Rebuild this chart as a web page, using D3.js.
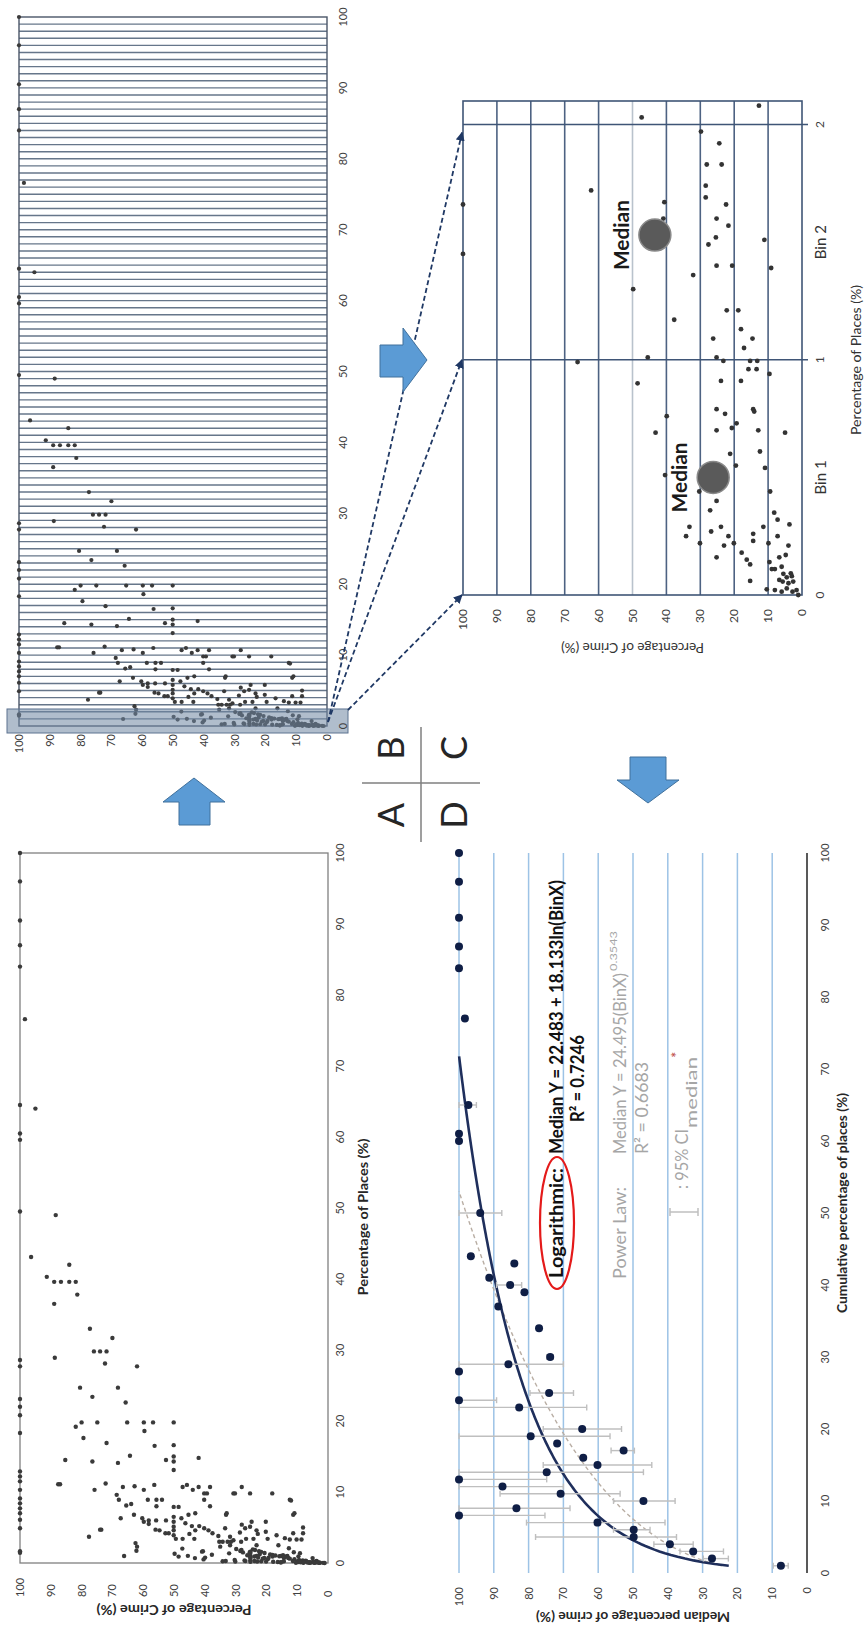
<!DOCTYPE html>
<html><head><meta charset="utf-8">
<script src="https://cdn.jsdelivr.net/npm/d3@7"></script>
<style>
html,body{margin:0;padding:0;background:#fff;}
svg{display:block;}
text{font-family:Lato,"Open Sans",sans-serif;}
</style>
</head><body>
<svg id="chart" width="865" height="1632"></svg>
<script>
// ---------------- DATA ----------------
// scatter: [percentage of places, percentage of crime], places <= 2.1 (zoomed panel C)
const lowPoints = [[1.66,100],[1.45,100],[2.08,12.7],[2.03,47.3],[1.97,29.8],[1.92,24.4],[1.83,28.1],[1.83,23.7],[1.72,62.2],[1.74,28.4],[1.69,28.4],[1.67,40.6],[1.66,22.4],[1.60,40.9],[1.60,25.2],[1.57,21.7],[1.52,25.4],[1.49,27.6],[1.51,11.1],[1.40,25.2],[1.40,20.6],[1.39,9.1],[1.36,32.1],[1.30,49.8],[1.17,37.7],[1.21,22.2],[1.21,18.8],[1.13,18],[1.09,26.2],[1.09,14.6],[1.05,17.1],[1.01,45.5],[0.99,66.2],[1.01,25.2],[0.995,23.2],[0.995,15.3],[0.995,13.2],[0.96,15.8],[0.96,13.4],[0.94,9.6],[0.90,48.5],[0.91,23.9],[0.91,18],[0.79,25.2],[0.79,14.4],[0.77,22.7],[0.78,14.1],[0.76,39.9],[0.73,19.3],[0.71,20.7],[0.70,25.2],[0.70,12.9],[0.69,5],[0.69,43.2],[0.60,21.2],[0.61,12.4],[0.55,19.5],[0.54,10.9],[0.51,40.4],[0.44,9.4],[0.44,30.3],[0.40,25.2],[0.36,27.1],[0.35,8.2],[0.32,7.2],[0.29,33.2],[0.25,34.2],[0.27,26.8],[0.29,23.9],[0.29,11.4],[0.30,3.7],[0.25,7.2],[0.26,14.4],[0.23,14.4],[0.25,21.7],[0.22,30.1],[0.21,23],[0.22,20.1],[0.22,9.9],[0.21,4],[0.18,17.8],[0.16,6.7],[0.16,25.2],[0.14,9.6],[0.15,16.3],[0.13,15.3],[0.17,4.8],[0.11,8],[0.11,8.9],[0.12,6],[0.06,15.3],[0.08,3],[0.09,5.5],[0.075,4.5],[0.057,5.7],[0.05,4],[0.057,2.6],[0.024,10.4],[0.021,8],[0.014,6],[0.028,4.5],[0.014,2.8],[0.021,1.6],[0,1.1],[0.064,6.7],[0.092,3.3]];
// scatter: places > 2.1
const highPoints = [[4.9,100],[6.1,100],[7,100],[7.7,100],[8.4,100],[9.1,100],[10.3,100],[11.5,100],[12.2,100],[12.9,100],[18.3,100],[20.8,100],[22,100],[23.1,100],[27.7,100],[28.6,100],[49.5,100],[59.6,100],[60.5,100],[64.5,100],[84,100],[87,100],[90.5,100],[96,100],[100,100],[76.6,98.4],[64,95],
[49,88.4],[43.1,96.4],[40.3,91.3],[39.6,88.9],[39.6,86.7],[39.6,84],[39.6,81.9],[42,84],[37.8,81.4],[36.5,88.9],[33,77.3],[31.7,70],[29.8,76],[29.8,74],[29.8,71.9],[28.9,88.7],[28.1,72.4],[27.7,62],[24.7,80.5],[24.7,68.2],[23.4,76.5],[22.6,65.7],[19.2,81.9],[19.8,80],[19.8,74.9],[19.8,65.2],[19.8,59.8],[19.8,56.8],[19.8,50.1],[18.6,59.6],[17.6,79.4],[16.9,71.9],[16.5,56.3],[16.6,50.1],[14.5,85.3],[14.3,76.5],[14.1,68.2],[15.1,64.3],[14.5,52.6],[15,50.1],[14.3,50.1],[13.1,50.1],[14.8,42],[11.1,87.6],[11.1,87],[10.3,75.8],[11.2,72.2],[10.7,66.6],[10.8,62.8],[10.3,59.8],[11,56.4],[10.7,47.2],[11,45.8],[10.3,43.9],[10.7,42],[10.7,38.3],[9.8,40.2],[9.8,39.3],[9.8,30.7],[9.8,30.2],[10.7,28],[9.8,25.3],[9.8,18.1],[8.9,12.4],[9.6,68.6],[8.9,67.9],[8.1,65.5],[8.3,63.9],[8.9,58.5],[8.9,55.7],[8.9,53.9],[8,55.7],[7.9,50.1],[7.9,48.5],[8,38.3],[8.9,40.2],[6.8,63],[5.8,59.8],[6.3,60.3],[6,58.2],[6,55.8],[6,52.6],[6.5,50.1],[5.8,50.1],[5.1,50.1],[4.6,50.1],[3.9,50.1],[6.3,47.6],[6.8,45.3],[7,43.1],[6.8,33.1],[5.4,28],[5.8,24.8],[5.8,20.2],[6.8,11.3],[5,8.1],[4.2,11.3],[4.2,8.1],[3.7,77.6],[4.7,74],[4.7,73.6],[6.3,67.3],[4.7,56],[5.5,58.2],[4.6,54.7],[4.2,52.8],[4.2,51.7],[5.6,46.3],[5.2,44.2],[4.6,43.1],[5.2,41.8],[4.9,40.2],[4.6,38.8],[4.2,37.5],[3.8,35.6],[4.9,33.4],[3.7,31.8],[4.3,28.6],[4.9,26.9],[5.1,25.3],[4.6,23.2],[4.4,20.2],[3.9,16.7],[3.5,14],[3.3,12.4],[3.3,10.2],[3.3,8.6],[2.8,62.5],[2.3,62],[2.3,35],[3,34.2],[2.5,31.8],[3.2,30.7],[2.5,23.2],[2.5,16.1],[3,31.5],[3,32.6],[3,35.3],[3,28.2],[4.1,22.8],[3.4,24.2],[3.4,26.6],[3.4,19.6],[3.4,43.4],[3.4,47.2],[3.4,49.4],[4.1,45],[7,32.9],[7,10.9],[8.8,12]];

// panel C medians
const binNames = ["Bin 1","Bin 2"];
const binCenters = [0.5, 1.53];
const binMedianValues = [26.2, 43.4];

// panel D: binned medians with 95% CI
const binX      = [1,2,3,4,5,6,7,8,9,10,11,12,13,14,15,16,17,18,19,20,23,24,25,28,29,30,34,37,39,40,41,43,44,50,60,61,65,77,84,87,91,96,100];
const binMedian = [7.5,27.3,32.7,39.4,49.8,49.8,60.2,100,83.5,47,70.8,87.5,100,74.8,60.2,64.3,52.7,71.8,79.4,64.6,82.7,100,74.1,100,85.8,73.8,77,88.7,81.2,85.3,91.3,84.1,96.6,93.9,100,100,97.3,98.3,100,100,100,100,100];
const ciLow     = [5.4,22.6,24,32.7,37.5,45.1,40.8,75.3,68.1,37.9,53.7,70,74.8,47,44.6,null,49.6,null,56.6,53.3,63.3,89.2,67.1,null,70,72.9,null,null,null,82,null,null,null,87.7,null,null,95,null,null,null,null,null,null];
const ciHigh    = [9.7,29.8,36.5,44,78,55.6,80.6,100,100,55.6,88.2,100,100,100,75.8,null,56.3,null,100,75.8,100,100,79.6,null,100,74.8,null,null,null,89.2,null,null,null,100,null,null,100,null,null,null,null,null,null];
const logFit = {a:22.483, b:18.133};
const powFit = {a:24.495, b:0.3543};

const tenTicks = [0,10,20,30,40,50,60,70,80,90,100];
const binTicks = [0,1,2];
const panelLetters = ["A","B","C","D"];

// ---------------- DRAW ----------------
const W = 1632;
const svg = d3.select("#chart");
const defs = svg.append("defs");
defs.append("marker").attr("id","ah").attr("viewBox","0 0 10 10").attr("refX",9).attr("refY",5)
  .attr("markerWidth",5).attr("markerHeight",5).attr("orient","auto")
  .append("path").attr("d","M0,0L10,5L0,10z").attr("fill","#1f3864");

const root = svg.append("g").attr("transform",`translate(0,${W}) rotate(-90)`);
const allPoints = lowPoints.concat(highPoints);
const tickCol = "#404040";

// ===== Panel A =====
const xA = d3.scaleLinear([0,100],[69,779]);
const yA = d3.scaleLinear([0,100],[328,20]);
const gA = root.append("g");
gA.append("rect").attr("x",xA(0)).attr("y",yA(100)).attr("width",xA(100)-xA(0)).attr("height",yA(0)-yA(100))
  .attr("fill","none").attr("stroke","#808080").attr("stroke-width",1.3);
gA.selectAll("circle").data(allPoints).join("circle")
  .attr("cx",d=>xA(d[0])).attr("cy",d=>yA(d[1])).attr("r",2.2).attr("fill","#3a3a3a");
gA.selectAll("text.xt").data(tenTicks).join("text").attr("class","xt")
  .attr("x",d=>xA(d)).attr("y",344).attr("text-anchor","middle").attr("font-size",11).attr("fill",tickCol).text(d=>d);
gA.selectAll("text.yt").data(tenTicks).join("text").attr("class","yt")
  .attr("x",35).attr("y",d=>yA(d)+4).attr("text-anchor","start").attr("font-size",11).attr("fill",tickCol).text(d=>d);
gA.append("text").attr("x",415).attr("y",368).attr("text-anchor","middle").attr("font-size",14).attr("font-weight","bold")
  .attr("fill","#262626").attr("textLength",157).attr("lengthAdjust","spacingAndGlyphs").text("Percentage of Places (%)");
gA.append("text").attr("transform",`translate(27,${(yA(0)+yA(100))/2}) rotate(-90)`).attr("text-anchor","middle")
  .attr("font-size",13).attr("font-weight","bold").attr("fill","#262626").attr("textLength",155).attr("lengthAdjust","spacingAndGlyphs")
  .text("Percentage of Crime (%)");

// ===== Panel B =====
const xB = d3.scaleLinear([0,100],[906,1615]);
const yB = d3.scaleLinear([0,100],[327,19]);
const gB = root.append("g");
gB.selectAll("line.bin").data(d3.range(1,100)).join("line").attr("class","bin")
  .attr("x1",d=>xB(d)).attr("x2",d=>xB(d)).attr("y1",yB(0)).attr("y2",yB(100))
  .attr("stroke","#66768a").attr("stroke-width",1.4);
gB.append("rect").attr("x",xB(0)).attr("y",yB(100)).attr("width",xB(100)-xB(0)).attr("height",yB(0)-yB(100))
  .attr("fill","none").attr("stroke","#4a5668").attr("stroke-width",1.4);
gB.selectAll("circle").data(allPoints).join("circle")
  .attr("cx",d=>xB(d[0])).attr("cy",d=>yB(d[1])).attr("r",2.1).attr("fill","#3a3a3a");
// highlighted zoom zone
gB.append("rect").attr("x",xB(0)-7).attr("y",yB(100)-12).attr("width",xB(2.4)-xB(0)+7).attr("height",yB(0)-yB(100)+33)
  .attr("fill","#6f86a3").attr("fill-opacity",0.55).attr("stroke","#5c7290").attr("stroke-width",1);
gB.selectAll("text.xt").data(tenTicks).join("text").attr("class","xt")
  .attr("x",d=>xB(d)).attr("y",347).attr("text-anchor","middle").attr("font-size",11).attr("fill",tickCol).text(d=>d);
gB.selectAll("text.yt").data(tenTicks).join("text").attr("class","yt")
  .attr("x",898).attr("y",d=>yB(d)+4).attr("text-anchor","end").attr("font-size",11).attr("fill",tickCol).text(d=>d);

// ===== Panel C =====
const xC = d3.scaleLinear([0,2.1],[1037,1531]);
const yC = d3.scaleLinear([0,100],[802,463]);
const gC = root.append("g");
gC.selectAll("line.h").data(d3.range(10,100,10)).join("line").attr("class","h")
  .attr("x1",xC(0)).attr("x2",xC(2.1)).attr("y1",d=>yC(d)).attr("y2",d=>yC(d))
  .attr("stroke",d=>d===50?"#b9c2cc":"#4d6282").attr("stroke-width",1.6);
gC.selectAll("line.v").data([1,2]).join("line").attr("class","v")
  .attr("x1",d=>xC(d)).attr("x2",d=>xC(d)).attr("y1",yC(0)+6).attr("y2",yC(100))
  .attr("stroke","#3f5576").attr("stroke-width",1.6);
gC.append("rect").attr("x",xC(0)).attr("y",yC(100)).attr("width",xC(2.1)-xC(0)).attr("height",yC(0)-yC(100))
  .attr("fill","none").attr("stroke","#3f5576").attr("stroke-width",1.6);
gC.selectAll("circle.p").data(lowPoints).join("circle").attr("class","p")
  .attr("cx",d=>xC(d[0])).attr("cy",d=>yC(d[1])).attr("r",2.4).attr("fill","#333");
gC.selectAll("circle.m").data(binCenters).join("circle").attr("class","m")
  .attr("cx",d=>xC(d)).attr("cy",(d,i)=>yC(binMedianValues[i])).attr("r",16)
  .attr("fill","#5a5a5a").attr("stroke","#8a8a8a").attr("stroke-width",1.5);
gC.selectAll("text.m").data(binCenters).join("text").attr("class","m")
  .attr("x",d=>xC(d)).attr("y",(d,i)=>yC(binMedianValues[i])-26).attr("text-anchor","middle")
  .attr("font-size",20).attr("font-weight","bold").attr("fill","#1a1a1a").attr("textLength",70).attr("lengthAdjust","spacingAndGlyphs")
  .text("Median");
gC.selectAll("text.yt").data(tenTicks).join("text").attr("class","yt")
  .attr("x",1023).attr("y",d=>yC(d)+4).attr("text-anchor","end").attr("font-size",12).attr("fill",tickCol).text(d=>d);
gC.selectAll("text.xt").data(binTicks).join("text").attr("class","xt")
  .attr("x",d=>xC(d)).attr("y",824).attr("text-anchor","middle").attr("font-size",12).attr("fill",tickCol).text(d=>d);
gC.selectAll("text.bin").data(binNames).join("text").attr("class","bin")
  .attr("x",(d,i)=>xC(i+0.5)).attr("y",826).attr("text-anchor","middle").attr("font-size",15).attr("fill","#333").text(d=>d);
gC.append("text").attr("x",1272).attr("y",861).attr("text-anchor","middle").attr("font-size",13).attr("fill","#333")
  .attr("textLength",150).attr("lengthAdjust","spacingAndGlyphs").text("Percentage of Places (%)");
gC.append("text").attr("transform",`translate(989,${(yC(0)+yC(100))/2}) rotate(-90)`).attr("text-anchor","middle")
  .attr("font-size",13).attr("fill","#333").attr("textLength",143).attr("lengthAdjust","spacingAndGlyphs").text("Percentage of Crime (%)");

// dashed zoom arrows from B to C
const arrowTargets = [0,1,2];
root.selectAll("line.za").data(arrowTargets).join("line").attr("class","za")
  .attr("x1",d=>d===0?xB(0)+16:xB(0)+4).attr("y1",d=>d===0?yB(0)+21:yB(0)+1)
  .attr("x2",d=>xC(d)-(d===2?8:0)).attr("y2",yC(100)-1)
  .attr("stroke","#1f3864").attr("stroke-width",1.8).attr("stroke-dasharray","5,3").attr("marker-end","url(#ah)");

// ===== Panel D =====
const xD = d3.scaleLinear([0,100],[59,779]);
const yD = d3.scaleLinear([0,100],[807,459]);
const gD = root.append("g");
gD.selectAll("line.g").data(d3.range(10,101,10)).join("line").attr("class","g")
  .attr("x1",xD(0)).attr("x2",xD(100)).attr("y1",d=>yD(d)).attr("y2",d=>yD(d))
  .attr("stroke","#9dc3e6").attr("stroke-width",1.5);
gD.append("line").attr("x1",xD(0)).attr("x2",xD(100)).attr("y1",yD(0)).attr("y2",yD(0))
  .attr("stroke","#595959").attr("stroke-width",2);
// trend lines from printed equations
const powX = d3.range(1, Math.pow(100/powFit.a,1/powFit.b), 0.25);
gD.append("path").datum(powX).attr("fill","none").attr("stroke","#b9aea4").attr("stroke-width",1.4).attr("stroke-dasharray","4,3")
  .attr("d",d3.line().x(d=>xD(d)).y(d=>yD(powFit.a*Math.pow(d,powFit.b))));
const logX = d3.range(1, Math.exp((100-logFit.a)/logFit.b), 0.25);
gD.append("path").datum(logX).attr("fill","none").attr("stroke","#1f2f5c").attr("stroke-width",2.6)
  .attr("d",d3.line().x(d=>xD(d)).y(d=>yD(logFit.a+logFit.b*Math.log(d))));
// error bars
const ciIdx = binX.map((d,i)=>i).filter(i=>ciLow[i]!==null);
const eb = gD.selectAll("g.eb").data(ciIdx).join("g").attr("class","eb").attr("stroke","#bfbfbf").attr("stroke-width",1.4);
eb.append("line").attr("x1",i=>xD(binX[i])).attr("x2",i=>xD(binX[i])).attr("y1",i=>yD(ciLow[i])).attr("y2",i=>yD(ciHigh[i]));
eb.append("line").attr("x1",i=>xD(binX[i])-3).attr("x2",i=>xD(binX[i])+3).attr("y1",i=>yD(ciLow[i])).attr("y2",i=>yD(ciLow[i]));
eb.append("line").attr("x1",i=>xD(binX[i])-3).attr("x2",i=>xD(binX[i])+3).attr("y1",i=>yD(ciHigh[i])).attr("y2",i=>yD(ciHigh[i]));
gD.selectAll("circle").data(binX).join("circle")
  .attr("cx",d=>xD(d)).attr("cy",(d,i)=>yD(binMedian[i])).attr("r",4).attr("fill","#0f1e45");
gD.selectAll("text.yt").data(tenTicks).join("text").attr("class","yt")
  .attr("x",45).attr("y",d=>yD(d)+4).attr("text-anchor","end").attr("font-size",11).attr("fill",tickCol).text(d=>d);
gD.selectAll("text.xt").data(tenTicks).join("text").attr("class","xt")
  .attr("x",d=>xD(d)).attr("y",829).attr("text-anchor","middle").attr("font-size",11).attr("fill",tickCol).text(d=>d);
gD.append("text").attr("x",429).attr("y",847).attr("text-anchor","middle").attr("font-size",13).attr("font-weight","bold")
  .attr("fill","#262626").attr("textLength",220).attr("lengthAdjust","spacingAndGlyphs").text("Cumulative percentage of places (%)");
gD.append("text").attr("transform",`translate(20,${(yD(0)+yD(100))/2}) rotate(-90)`).attr("text-anchor","middle")
  .attr("font-size",13).attr("font-weight","bold").attr("fill","#262626").attr("textLength",194).attr("lengthAdjust","spacingAndGlyphs")
  .text("Median percentage of crime (%)");
// annotations
gD.append("ellipse").attr("cx",409).attr("cy",557).attr("rx",66).attr("ry",17).attr("fill","none").attr("stroke","#e41a1a").attr("stroke-width",2.2);
const ann = (x,y,t,o)=>{const e=gD.append("text").attr("x",x).attr("y",y).attr("font-size",o.fs||18).attr("fill",o.c||"#111")
  .attr("font-weight",o.w||"normal").text(t); if(o.tl) e.attr("textLength",o.tl).attr("lengthAdjust","spacingAndGlyphs"); if(o.a) e.attr("text-anchor",o.a); return e;};
ann(354,563,"Logarithmic:",{w:"bold",tl:110});
ann(478,563,"Median Y = 22.483 + 18.133ln(BinX)",{w:"bold",tl:274});
ann(510,584,"R² = 0.7246",{w:"bold",tl:87});
ann(353,626,"Power Law:",{c:"#a6a6a6",fs:17,tl:92});
ann(478,626,"Median Y = 24.495(BinX)",{c:"#a6a6a6",fs:17,tl:181});
ann(661,617,"0.3543",{c:"#a6a6a6",fs:10,tl:40});
ann(478,648,"R² = 0.6683",{c:"#a6a6a6",fs:17,tl:92});
gD.append("line").attr("x1",420).attr("x2",420).attr("y1",670).attr("y2",698).attr("stroke","#bfbfbf").attr("stroke-width",1.5);
gD.append("line").attr("x1",416).attr("x2",424).attr("y1",670).attr("y2",670).attr("stroke","#bfbfbf").attr("stroke-width",1.5);
gD.append("line").attr("x1",416).attr("x2",424).attr("y1",698).attr("y2",698).attr("stroke","#bfbfbf").attr("stroke-width",1.5);
ann(443,688,": 95% CI",{c:"#a6a6a6",fs:17,tl:60});
ann(504,697,"median",{c:"#a6a6a6",fs:16,tl:71});
ann(574,682,"*",{c:"#c0504d",fs:15});

// ===== block arrows =====
const blockArrows = [
  [[807,179],[830,179],[830,163],[854,194],[830,225],[830,210],[807,210]],
  [[1255,380],[1287,380],[1287,403],[1304,403],[1272,427],[1240,403],[1255,403]],
  [[875,630],[875,666],[852,666],[852,679],[829,648],[852,617],[852,630]]
];
root.selectAll("path.ba").data(blockArrows).join("path").attr("class","ba")
  .attr("d",d=>d3.line()(d)+"Z").attr("fill","#5b9bd5").attr("stroke","#41719c").attr("stroke-width",1);

// ===== panel letters cross =====
root.append("line").attr("x1",849).attr("x2",849).attr("y1",362).attr("y2",480).attr("stroke","#7f7f7f").attr("stroke-width",1.5);
root.append("line").attr("x1",790).attr("x2",905).attr("y1",421).attr("y2",421).attr("stroke","#7f7f7f").attr("stroke-width",1.5);
const letterPos = [[817,390],[884,390],[884,453],[817,453]];
root.selectAll("text.lt").data(panelLetters).join("text").attr("class","lt")
  .attr("x",(d,i)=>letterPos[i][0]).attr("y",(d,i)=>letterPos[i][1]).attr("text-anchor","middle").attr("dominant-baseline","central")
  .attr("font-size",36).attr("fill","#262626").text(d=>d);
</script>
</body></html>
